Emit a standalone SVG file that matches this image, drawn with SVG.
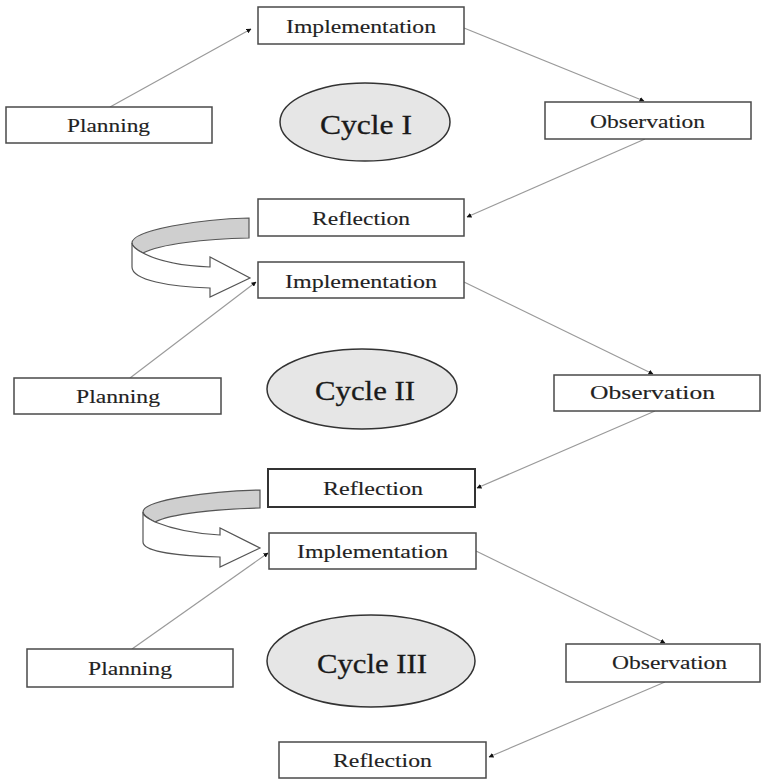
<svg xmlns="http://www.w3.org/2000/svg" width="763" height="779" viewBox="0 0 763 779">
<style>
.box{fill:#fff;stroke:#4a4a4a;stroke-width:1.5}
.cyc{fill:#e6e6e6;stroke:#333;stroke-width:1.5}
.t{font-family:"Liberation Serif","Times New Roman",serif;font-size:18px;fill:#222;stroke:#222;stroke-width:0.12}
.ct{font-family:"Liberation Serif","Times New Roman",serif;font-size:27px;fill:#1a1a1a;stroke:#1a1a1a;stroke-width:0.3}
.con{stroke:#9a9a9a;stroke-width:1.2;fill:none;marker-end:url(#ah)}
.band{fill:#cfcfcf;stroke:#555;stroke-width:1.2}
.rib{fill:#fff;stroke:#555;stroke-width:1.2}
</style>
<defs>
<marker id="ah" viewBox="0 0 10 10" refX="9" refY="5" markerWidth="5" markerHeight="5" orient="auto" markerUnits="userSpaceOnUse">
<path d="M0,0 L10,5 L0,10 Z" fill="#111"/>
</marker>
</defs>
<rect width="763" height="779" fill="#fff"/>

<g id="connectors">
<line class="con" x1="110" y1="107" x2="251" y2="29"/>
<line class="con" x1="464" y1="28" x2="644" y2="101"/>
<line class="con" x1="645" y1="139" x2="467" y2="217"/>
<line class="con" x1="130" y1="378" x2="256" y2="282"/>
<line class="con" x1="464" y1="282" x2="653" y2="374"/>
<line class="con" x1="655" y1="411" x2="477" y2="488"/>
<line class="con" x1="132" y1="649" x2="268" y2="553"/>
<line class="con" x1="476" y1="551" x2="665" y2="643"/>
<line class="con" x1="665" y1="682" x2="489" y2="757"/>
</g>

<g id="turn1">
<path class="band" d="M249,218 L249,238 C205,239 160,244 143,253 C137,250 132,247 132,243 C132,230 200,219 249,218 Z"/>
<path class="rib" d="M132,243 C132,247 137,250 143,253 C160,262 185,266 210,267 L210,257 L250,278 L210,297 L210,288 C170,287 132,280 132,267 Z"/>
</g>
<g id="turn2">
<path class="band" d="M260,490 L260,508 C215,509 170,514 155,522 C149,519 143,516 143,512 C143,500 210,491 260,490 Z"/>
<path class="rib" d="M143,512 C143,516 149,519 155,522 C175,530 200,534 220,535 L220,528 L260,548 L220,567 L220,557 C180,556 143,552 143,542 Z"/>
</g>

<g id="impl1"><rect class="box" x="258" y="7" width="206" height="37"/><text class="t" x="286" y="33" textLength="150" lengthAdjust="spacingAndGlyphs">Implementation</text></g>
<g id="plan1"><rect class="box" x="6" y="107" width="206" height="36"/><text class="t" x="67" y="132" textLength="83" lengthAdjust="spacingAndGlyphs">Planning</text></g>
<g id="obs1"><rect class="box" x="545" y="102" width="206" height="37"/><text class="t" x="590" y="128" textLength="115" lengthAdjust="spacingAndGlyphs">Observation</text></g>
<g id="refl1"><rect class="box" x="258" y="199" width="206" height="37"/><text class="t" x="312" y="225" textLength="98" lengthAdjust="spacingAndGlyphs">Reflection</text></g>
<g id="cycle1"><ellipse class="cyc" cx="365" cy="122" rx="85" ry="39"/><text class="ct" x="320" y="134" textLength="92" lengthAdjust="spacingAndGlyphs">Cycle I</text></g>

<g id="impl2"><rect class="box" x="258" y="262" width="206" height="36"/><text class="t" x="285" y="288" textLength="152" lengthAdjust="spacingAndGlyphs">Implementation</text></g>
<g id="plan2"><rect class="box" x="14" y="378" width="207" height="36"/><text class="t" x="76" y="403" textLength="84" lengthAdjust="spacingAndGlyphs">Planning</text></g>
<g id="obs2"><rect class="box" x="554" y="375" width="206" height="36"/><text class="t" x="590" y="399" textLength="125" lengthAdjust="spacingAndGlyphs">Observation</text></g>
<g id="refl2"><rect class="box" x="268" y="469" width="207" height="38" style="stroke:#333;stroke-width:2"/><text class="t" x="323" y="495" textLength="100" lengthAdjust="spacingAndGlyphs">Reflection</text></g>
<g id="cycle2"><ellipse class="cyc" cx="362" cy="389" rx="95" ry="40"/><text class="ct" x="315" y="400" textLength="100" lengthAdjust="spacingAndGlyphs">Cycle II</text></g>

<g id="impl3"><rect class="box" x="269" y="533" width="207" height="36"/><text class="t" x="297" y="558" textLength="151" lengthAdjust="spacingAndGlyphs">Implementation</text></g>
<g id="plan3"><rect class="box" x="27" y="649" width="206" height="38"/><text class="t" x="88" y="675" textLength="84" lengthAdjust="spacingAndGlyphs">Planning</text></g>
<g id="obs3"><rect class="box" x="566" y="644" width="194" height="38"/><text class="t" x="612" y="669" textLength="115" lengthAdjust="spacingAndGlyphs">Observation</text></g>
<g id="refl3"><rect class="box" x="279" y="742" width="207" height="36"/><text class="t" x="333" y="767" textLength="99" lengthAdjust="spacingAndGlyphs">Reflection</text></g>
<g id="cycle3"><ellipse class="cyc" cx="371" cy="661" rx="104" ry="46"/><text class="ct" x="317" y="673" textLength="110" lengthAdjust="spacingAndGlyphs">Cycle III</text></g>
</svg>
